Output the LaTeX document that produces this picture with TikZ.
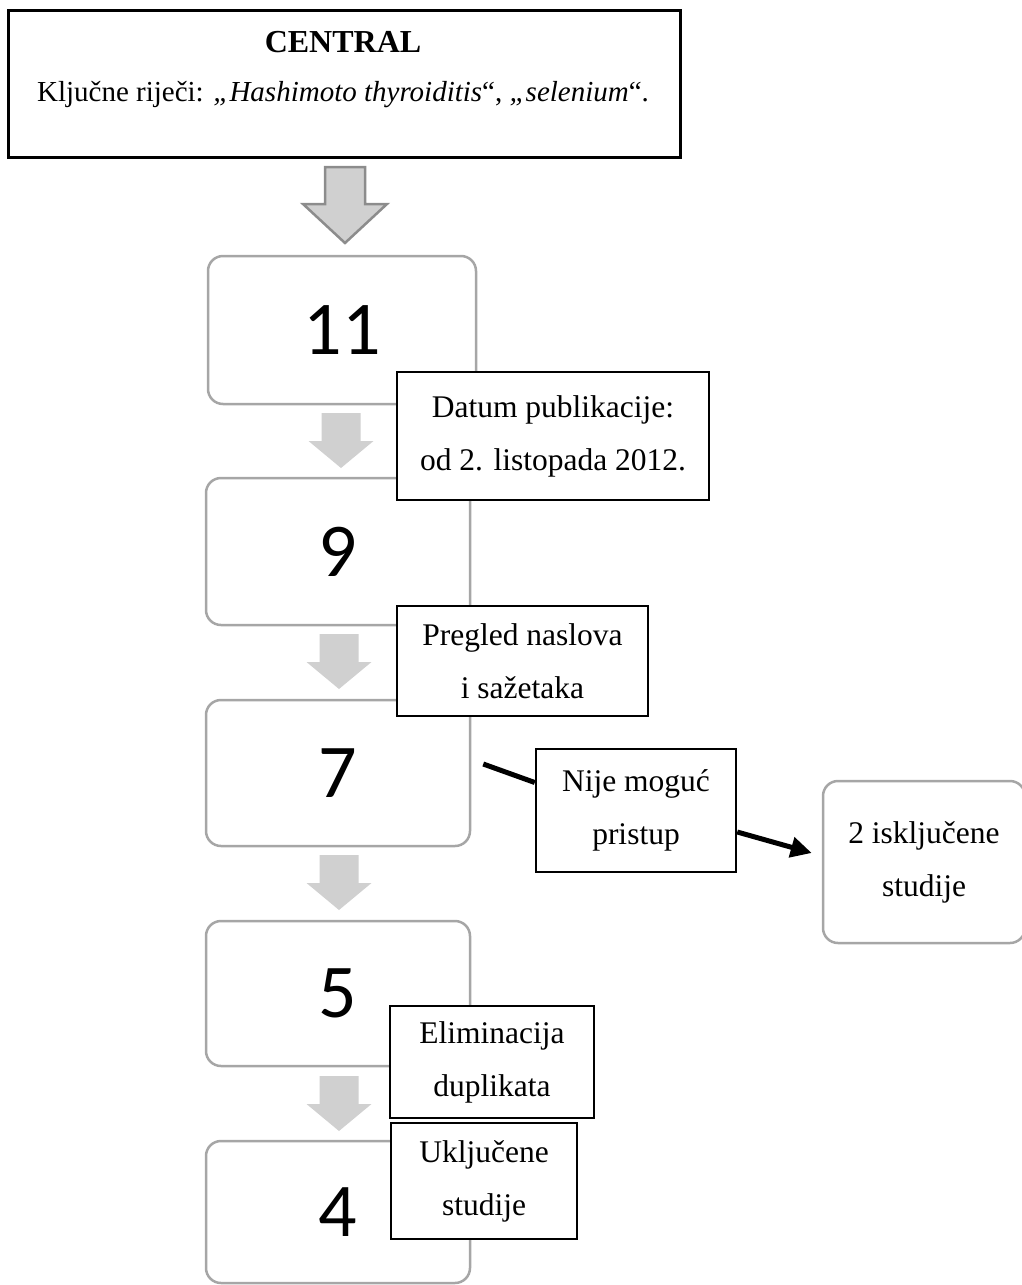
\documentclass[tikz,border=0pt]{standalone}
\usepackage{fontspec}
\setmainfont{Liberation Serif}
\newfontfamily\numfont{Carlito}
\usetikzlibrary{arrows.meta,calc}
\definecolor{stagegray}{HTML}{A6A6A6}
\definecolor{arrowgray}{HTML}{D0D0D0}
\definecolor{bigarrowedge}{HTML}{8C8C8C}
\newcommand\downarrowshape[3]{% center x, top y, style
  \fill[#3] (#1-19.5,#2) -- (#1+19.5,#2) -- (#1+19.5,#2+28) -- (#1+32.5,#2+28)
    -- (#1,#2+55) -- (#1-32.5,#2+28) -- (#1-19.5,#2+28) -- cycle;}
\begin{document}
\begin{tikzpicture}[x=1pt,y=-1pt,
  stage/.style={draw=stagegray, line width=2.5pt, rounded corners=15pt, fill=white, inner sep=0pt},
  note/.style={draw=black, line width=2.5pt, fill=white, align=center, inner sep=0pt,
    font=\fontsize{31.5}{53}\selectfont},
  bignum/.style={font=\numfont\fontsize{76}{76}\selectfont},
  flowarrow/.style={fill=arrowgray},
  conn/.style={draw=black, line width=5pt},
  txt/.style={inner sep=0pt, font=\fontsize{29}{35}\selectfont}]
\useasboundingbox (0,0) rectangle (1022,1285);
% top box
\node[draw=black, line width=3pt, minimum width=672pt, minimum height=147pt, inner sep=0pt] (top) at (344,83.5) {};
\node[txt, font=\fontsize{32}{38}\selectfont\bfseries] (central) at (343,42) {CENTRAL};
\node[txt] (kw) at (343,95) {Ključne riječi: \textit{„Hashimoto thyroiditis}“, \textit{„selenium}“.};
% big arrow
\filldraw[fill=arrowgray, draw=bigarrowedge, line width=2.5pt, line join=miter]
  (325,167) -- (365,167) -- (365,204) -- (387,204) -- (345,243) -- (303,204) -- (325,204) -- cycle;
% stage boxes
\node[stage, bignum, minimum width=268pt, minimum height=148pt] (b11) at (342,330) {11};
\node[stage, bignum, minimum width=264pt, minimum height=147pt] (b9) at (338,551.5) {9};
\node[stage, bignum, minimum width=264pt, minimum height=146pt] (b7) at (338,773) {7};
\node[stage, bignum, minimum width=264pt, minimum height=145pt] (b5) at (338,993.5) {5};
\node[stage, bignum, minimum width=264pt, minimum height=142pt] (b4) at (338,1212) {4};
% small arrows
\downarrowshape{341}{413}{flowarrow}
\downarrowshape{339}{634}{flowarrow}
\downarrowshape{339}{855}{flowarrow}
\downarrowshape{339}{1076}{flowarrow}
% notes
\node[note, minimum width=312pt, minimum height=128pt] (datum) at (553,436) {Datum publikacije:\\od 2. listopada 2012.};
\node[note, minimum width=251pt, minimum height=110pt] (pregled) at (522.5,661) {Pregled naslova\\i sažetaka};
\node[note, minimum width=200pt, minimum height=123pt] (nije) at (636,810.5) {Nije moguć\\pristup};
\node[note, minimum width=204pt, minimum height=112pt] (elim) at (492,1062) {Eliminacija\\duplikata};
\node[note, minimum width=186pt, minimum height=116pt] (uklj) at (484,1181) {Uključene\\studije};
\node[stage, minimum width=202pt, minimum height=162pt, align=center, font=\fontsize{31.5}{53}\selectfont] (excl) at (924,862) {2 isključene\\studije};
% connectors
\coordinate (c1) at ($(b7.east)+(12,-9)$);
\draw[conn] (c1) -- ([yshift=28pt]nije.west);
\coordinate (c2) at ($(excl.west)+(-10,-9)$);
\draw[conn, -{Triangle[length=21pt,width=20pt]}] ([yshift=-21.5pt]nije.east) -- (c2);
\end{tikzpicture}
\end{document}
